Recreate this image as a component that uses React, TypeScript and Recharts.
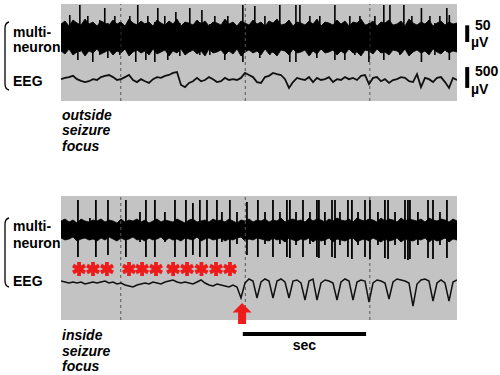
import React from 'react';
import {
  ComposedChart,
  Area,
  Line,
  Bar,
  XAxis,
  YAxis,
  CartesianGrid,
  ReferenceLine,
  ReferenceDot,
} from 'recharts';

// time in ms from the left edge of the trace panels
const SPAN_MS = 3180;
const SAMPLES = 100;
const secMarks = [480, 1480, 2480]; // dashed 1 s markers

// ---------- outside seizure focus ----------
// multi-neuron envelope (µV, upper / lower edge of the dense band)
const topUnitHi = [
  42, 51, 36, 54, 45, 39, 57, 42, 48, 36,
  51, 45, 39, 54, 42, 48, 36, 57, 45, 39,
  51, 42, 48, 36, 54, 45, 39, 51, 42, 57,
  36, 48, 45, 39, 54, 42, 51, 36, 48, 45,
  39, 57, 42, 48, 36, 51, 45, 39, 54, 42,
  48, 36, 51, 45, 57, 39, 42, 54, 36, 48,
  45, 39, 51, 42, 57, 36, 48, 45, 39, 54,
  42, 51, 36, 48, 45, 57, 39, 42, 51, 36,
  48, 45, 54, 39, 42, 51, 36, 57, 45, 39,
  48, 42, 54, 36, 45, 51, 39, 48, 42, 45,
];
const topUnitLo = [
  -39, -48, -33, -51, -42, -36, -54, -39, -45, -33,
  -48, -42, -36, -51, -39, -45, -33, -54, -42, -36,
  -45, -39, -51, -33, -48, -42, -36, -54, -39, -45,
  -33, -51, -42, -36, -48, -39, -54, -33, -45, -42,
  -36, -51, -39, -48, -33, -54, -42, -36, -45, -39,
  -51, -33, -48, -42, -54, -36, -39, -51, -33, -45,
  -42, -36, -54, -39, -48, -33, -45, -42, -36, -51,
  -39, -48, -33, -45, -42, -54, -36, -39, -48, -33,
  -45, -42, -51, -36, -39, -48, -33, -54, -42, -36,
  -45, -39, -51, -33, -42, -48, -36, -45, -39, -42,
];
// EEG (µV)
const topEeg = [
  20, 50, 70, 100, 20, -20, -50, -30, 20, 0,
  70, 100, 120, 70, 0, 20, 70, 120, 0, -50,
  20, -30, -70, 20, 70, 50, 100, 120, 170, 190,
  -120, -170, -70, -30, 50, -30, 0, 70, 20, -50,
  -30, 50, 0, 20, 0, 50, 170, 120, 70, -50,
  -70, 70, 100, 170, 140, 120, 20, -190, -50, 50,
  20, 0, 70, -50, 50, 0, 20, 70, -50, 20,
  0, 70, 20, 50, 0, 100, 120, -100, 50, 70,
  -30, 20, -70, 0, 20, 70, 50, -30, -50, 140,
  -170, 50, 20, -50, 50, 70, -50, -190, 50, 0,
];
// single-unit spikes sticking out of the band
const topSpikeT = [
  72, 137, 153, 217, 257, 313, 353, 378, 434, 474,
  554, 602, 618, 683, 699, 755, 779, 835, 859, 924,
  956, 1036, 1116, 1133, 1197, 1237, 1317, 1341, 1462, 1558,
  1598, 1639, 1679, 1759, 1839, 1888, 1920, 2000, 2056, 2080,
  2201, 2281, 2321, 2361, 2402, 2474, 2522, 2594, 2643, 2723,
  2755, 2819, 2896, 2964, 3004, 3044, 3100, 3120,
];
const topSpikeHi = [
  69, 36, 99, 66, 42, 54, 90, 45, 66, 48,
  66, 42, 99, 45, 66, 48, 90, 66, 45, 78,
  45, 90, 48, 84, 42, 66, 42, 66, 99, 96,
  45, 66, 42, 99, 45, 99, 99, 66, 42, 66,
  99, 45, 66, 42, 66, 45, 66, 99, 99, 45,
  99, 66, 90, 66, 45, 66, 90, 69,
];
const topSpikeLo = [
  -36, -66, -42, -36, -72, -51, -42, -60, -36, -51,
  -42, -72, -36, -66, -36, -72, -42, -36, -66, -36,
  -54, -42, -51, -36, -51, -39, -66, -36, -72, -36,
  -60, -36, -51, -36, -72, -72, -39, -51, -60, -36,
  -66, -66, -36, -51, -36, -72, -36, -66, -39, -51,
  -36, -39, -72, -36, -51, -36, -42, -66,
];

// ---------- inside seizure focus ----------
const botUnitHi = [
  27, 33, 24, 30, 21, 33, 27, 24, 30, 27,
  33, 24, 30, 27, 21, 33, 24, 30, 27, 33,
  24, 30, 21, 27, 33, 24, 30, 27, 24, 33,
  27, 21, 30, 33, 24, 27, 30, 24, 33, 27,
  30, 24, 33, 27, 21, 30, 27, 33, 24, 30,
  27, 33, 24, 30, 27, 36, 24, 30, 33, 27,
  30, 24, 36, 27, 33, 30, 24, 33, 27, 36,
  30, 27, 33, 24, 36, 30, 27, 33, 30, 24,
  36, 27, 33, 30, 24, 36, 27, 33, 30, 27,
  33, 24, 36, 30, 27, 33, 30, 24, 33, 27,
];
const botUnitLo = [
  -24, -30, -27, -21, -33, -27, -24, -30, -27, -33,
  -24, -30, -21, -27, -33, -24, -30, -27, -21, -30,
  -27, -33, -24, -30, -27, -21, -33, -24, -30, -27,
  -33, -24, -27, -30, -21, -33, -27, -24, -30, -27,
  -24, -33, -27, -30, -24, -21, -33, -27, -30, -24,
  -27, -30, -33, -24, -30, -27, -36, -24, -30, -33,
  -27, -30, -24, -36, -27, -33, -30, -24, -36, -27,
  -30, -33, -27, -24, -36, -30, -27, -33, -24, -30,
  -36, -27, -33, -30, -24, -36, -27, -30, -33, -27,
  -30, -24, -36, -27, -33, -30, -24, -36, -27, -30,
];
const botEeg = [
  24, 0, -24, 0, -24, 0, -48, -24, 0, -24,
  0, 24, -24, 0, -48, -24, -72, -96, -120, -72,
  -48, -24, -48, 0, -24, -48, 0, 24, 48, 0,
  -24, 0, -24, -48, 0, 48, -24, -72, -96, -48,
  -72, -96, -120, -72, -120, -384, -24, 72, 24, -384,
  0, 72, 24, -384, 24, 72, 0, -384, 24, 48,
  -24, -432, 24, 72, -432, -24, 48, 24, -24, -432,
  0, 72, 24, -432, 0, 48, 24, -480, -24, 48,
  24, -24, -408, 0, 72, 48, 24, -24, -576, -48,
  48, 72, 24, -456, -24, 48, -24, -456, 0, 48,
];
const botSpikeT = [
  137, 233, 281, 378, 522, 635, 683, 755, 835, 916,
  1004, 1060, 1116, 1173, 1253, 1293, 1357, 1414, 1494, 1582,
  1639, 1703, 1759, 1815, 1839, 1888, 1944, 2000, 2056, 2072,
  2120, 2177, 2201, 2241, 2305, 2337, 2386, 2442, 2482, 2546,
  2602, 2627, 2683, 2763, 2787, 2803, 2867, 2948, 2988, 3044,
  3100,
];
const botSpikeHi = [
  90, 36, 90, 90, 90, 54, 90, 90, 54, 90,
  90, 81, 90, 90, 90, 54, 90, 54, 84, 90,
  54, 90, 54, 90, 90, 54, 90, 54, 90, 90,
  54, 90, 90, 54, 90, 90, 54, 90, 90, 54,
  90, 90, 54, 90, 90, 90, 54, 90, 90, 54,
  90,
];
const botSpikeLo = [
  -81, -30, -81, -75, -81, -36, -81, -81, -36, -81,
  -81, -75, -81, -81, -81, -36, -81, -42, -75, -81,
  -42, -81, -42, -81, -84, -45, -81, -42, -81, -84,
  -45, -81, -84, -45, -81, -87, -45, -81, -87, -45,
  -84, -87, -45, -87, -90, -87, -45, -84, -87, -45,
  -84,
];
const starT = [145, 257, 369, 546, 651, 763, 900, 1012, 1128, 1245, 1357];
const seizureOnsetT = 1454;

// scale bars
const unitScaleBar = [-12, 38]; // 50 µV
const eegScaleBar = [-190, 310]; // 500 µV
const secScaleBar = [1460, 2450]; // 1 s

const FONT = '"Liberation Sans", Arial, sans-serif';
const PANEL_BG = '#c3c3c3';
const MARK_RED = '#ee1b1b';
const CHART_W = 416; // 396 px of trace + room for the µV bars
const PLOT_MARGIN = { top: 0, right: 20, bottom: 0, left: 0 };

const sampleT = (i: number) => (i * SPAN_MS) / (SAMPLES - 1);
const traceRows = (hi: number[], lo: number[], eeg: number[]) =>
  hi.map((h, i) => ({ t: sampleT(i), unit: [lo[i], h], eeg: eeg[i] }));
const spikeRows = (t: number[], hi: number[], lo: number[]) =>
  t.map((x, i) => ({ t: x, spike: [lo[i], hi[i]] }));

const topRows = traceRows(topUnitHi, topUnitLo, topEeg);
const topSpikes = spikeRows(topSpikeT, topSpikeHi, topSpikeLo);
const botRows = traceRows(botUnitHi, botUnitLo, botEeg);
const botSpikes = spikeRows(botSpikeT, botSpikeHi, botSpikeLo);

function Asterisk({ cx, cy }: any) {
  if (cx == null || cy == null) return <g />;
  const r = 7;
  return (
    <g>
      {[90, 30, -30].map((a) => {
        const dx = r * Math.cos((a * Math.PI) / 180);
        const dy = r * Math.sin((a * Math.PI) / 180);
        return (
          <line key={a} x1={cx - dx} y1={cy - dy} x2={cx + dx} y2={cy + dy} stroke={MARK_RED} strokeWidth={3.8} />
        );
      })}
    </g>
  );
}

function UpArrow({ cx, cy }: any) {
  if (cx == null || cy == null) return <g />;
  const pts = [
    [0, 0], [9.5, 9.5], [4, 9.5], [4, 21], [-4, 21], [-4, 9.5], [-9.5, 9.5],
  ].map(([dx, dy]) => `${cx + dx},${cy + dy}`).join(' ');
  return <polygon points={pts} fill={MARK_RED} />;
}

function Txt({ x, base, children, italic }: any) {
  return (
    <div
      style={{
        position: 'absolute',
        left: x,
        top: base - 11.8,
        lineHeight: '14px',
        fontSize: 14,
        fontWeight: 700,
        fontStyle: italic ? 'italic' : 'normal',
        whiteSpace: 'nowrap',
      }}
    >
      {children}
    </div>
  );
}

interface PanelProps {
  top: number;
  height: number;
  rows: any[];
  spikes: any[];
  unitDomain: number[];
  eegDomain: number[];
  spikeWidth: number;
  eegWidth: number;
  extraBottom: number;
  children?: React.ReactNode;
}

function Panel({ top, height, rows, spikes, unitDomain, eegDomain, spikeWidth, eegWidth, extraBottom, children }: PanelProps) {
  const axes = [
    <XAxis key="x" dataKey="t" type="number" domain={[0, SPAN_MS]} hide allowDataOverflow />,
    <YAxis key="u" yAxisId="unit" type="number" domain={unitDomain} hide allowDataOverflow />,
    <YAxis key="e" yAxisId="eeg" type="number" domain={eegDomain} hide allowDataOverflow />,
  ];
  return (
    <>
      <div style={{ position: 'absolute', left: 61, top }}>
        <ComposedChart width={CHART_W} height={height} data={rows} margin={PLOT_MARGIN}>
          <CartesianGrid yAxisId="unit" fill={PANEL_BG} fillOpacity={1} stroke="none" horizontal={false} vertical={false} />
          {axes}
          {secMarks.map((x) => (
            <ReferenceLine key={x} x={x} yAxisId="unit" stroke="#555" strokeDasharray="3 3" />
          ))}
          <Area
            yAxisId="unit"
            dataKey="unit"
            type="linear"
            stroke="#000"
            strokeWidth={0.8}
            fill="#000"
            fillOpacity={1}
            dot={false}
            activeDot={false}
            isAnimationActive={false}
          />
          <Line
            yAxisId="eeg"
            dataKey="eeg"
            type="linear"
            stroke="#111"
            strokeWidth={eegWidth}
            dot={false}
            activeDot={false}
            isAnimationActive={false}
          />
        </ComposedChart>
      </div>
      <div style={{ position: 'absolute', left: 61, top }}>
        <ComposedChart
          width={CHART_W}
          height={height + extraBottom}
          data={spikes}
          margin={{ ...PLOT_MARGIN, bottom: extraBottom }}
        >
          {axes}
          <Bar yAxisId="unit" dataKey="spike" barSize={spikeWidth} fill="#000" isAnimationActive={false} />
          {children}
        </ComposedChart>
      </div>
    </>
  );
}

export default function App() {
  return (
    <div
      style={{
        position: 'absolute',
        left: 0,
        top: 0,
        width: 500,
        height: 375,
        background: '#fff',
        color: '#000',
        fontFamily: FONT,
        overflow: 'hidden',
      }}
    >
      <Panel
        top={4}
        height={97}
        rows={topRows}
        spikes={topSpikes}
        unitDomain={[-189, 102]}
        eegDomain={[-504, 1824]}
        spikeWidth={1.6}
        eegWidth={1.8}
        extraBottom={0}
      >
        <ReferenceLine
          yAxisId="unit"
          segment={[{ x: 3262, y: unitScaleBar[0] }, { x: 3262, y: unitScaleBar[1] }]}
          stroke="#000"
          strokeWidth={4}
          ifOverflow="visible"
        />
        <ReferenceLine
          yAxisId="eeg"
          segment={[{ x: 3262, y: eegScaleBar[0] }, { x: 3262, y: eegScaleBar[1] }]}
          stroke="#000"
          strokeWidth={4}
          ifOverflow="visible"
        />
      </Panel>

      <Panel
        top={196}
        height={124}
        rows={botRows}
        spikes={botSpikes}
        unitDomain={[-270, 102]}
        eegDomain={[-912, 2064]}
        spikeWidth={2}
        eegWidth={1.5}
        extraBottom={40}
      >
        {starT.map((t) => (
          <ReferenceDot
            key={t}
            x={t}
            y={-117}
            yAxisId="unit"
            r={7}
            ifOverflow="visible"
            shape={(p: any) => <Asterisk {...p} />}
          />
        ))}
        <ReferenceDot
          x={seizureOnsetT}
          y={-504}
          yAxisId="eeg"
          r={10}
          ifOverflow="visible"
          shape={(p: any) => <UpArrow {...p} />}
        />
        <ReferenceLine
          yAxisId="eeg"
          segment={[{ x: secScaleBar[0], y: -1248 }, { x: secScaleBar[1], y: -1248 }]}
          stroke="#000"
          strokeWidth={4}
          ifOverflow="visible"
          label={{ value: 'sec', position: 'bottom', offset: 6, fill: '#000', fontSize: 14, fontWeight: 700, fontFamily: FONT }}
        />
      </Panel>

      {/* left brackets */}
      <svg style={{ position: 'absolute', left: 0, top: 0 }} width={20} height={300}>
        <path d="M9,22 Q5,23 5,28 L5,84 Q5,89 9,90" fill="none" stroke="#000" strokeWidth={1.3} />
        <path d="M9,218 Q5,219 5,224 L5,281 Q5,286 9,287" fill="none" stroke="#000" strokeWidth={1.3} />
      </svg>

      <Txt x={13} base={37}>multi-</Txt>
      <Txt x={13} base={52}>neuron</Txt>
      <Txt x={13} base={86}>EEG</Txt>
      <Txt x={13} base={230.5}>multi-</Txt>
      <Txt x={13} base={247.5}>neuron</Txt>
      <Txt x={13} base={286}>EEG</Txt>

      <Txt x={62} base={120} italic>outside</Txt>
      <Txt x={62} base={135} italic>seizure</Txt>
      <Txt x={62} base={150.5} italic>focus</Txt>
      <Txt x={62} base={340} italic>inside</Txt>
      <Txt x={62} base={355.5} italic>seizure</Txt>
      <Txt x={62} base={371} italic>focus</Txt>

      <Txt x={475} base={29.5}>50</Txt>
      <Txt x={471} base={46.5}>µV</Txt>
      <Txt x={475} base={76}>500</Txt>
      <Txt x={471} base={94}>µV</Txt>
    </div>
  );
}
